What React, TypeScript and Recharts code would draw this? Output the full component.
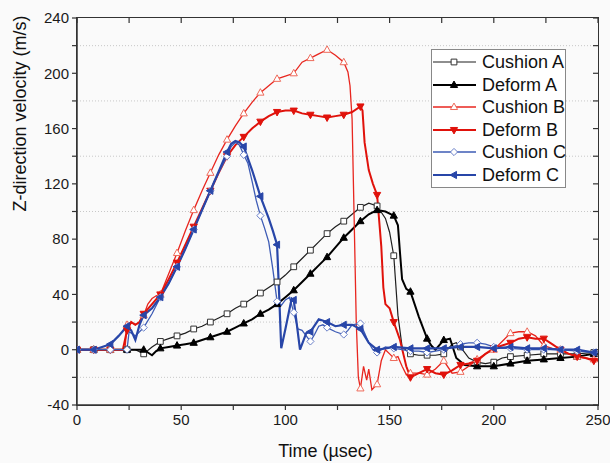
import React from 'react';
import { LineChart, Line, XAxis, YAxis, ReferenceLine, Legend } from 'recharts';

type Pt = [number, number];

// [time (µs), velocity (m/s)]
const cushionA: Pt[] = [
  [0, 0], [8, 0], [16, 0], [24, 0], [28, 0], [32, -3], [36, 2], [40, 6], [44, 8], [48, 10],
  [52, 12], [56, 15], [60, 17], [64, 20], [68, 23], [72, 26], [76, 30], [80, 33], [84, 37],
  [88, 41], [92, 45], [96, 49], [100, 54], [104, 60], [108, 66], [112, 72], [116, 78],
  [120, 84], [124, 89], [128, 93], [132, 98], [136, 103], [140, 106], [144, 104], [148, 95],
  [150, 85], [152, 68], [154, 25], [156, 2], [160, -3], [164, -4], [168, -4], [172, -4],
  [176, -3], [180, 4], [182, 5], [184, 2], [188, -6], [192, -9], [196, -10], [200, -9],
  [204, -6], [208, -5], [216, -4], [224, -3], [232, -3], [240, -3], [248, -2], [250, -2],
];

const deformA: Pt[] = [
  [0, 0], [8, 0], [16, 0], [24, 0], [32, 0], [34, -2], [36, -4], [38, -1], [40, 1], [44, 2],
  [48, 3], [52, 4], [56, 5], [60, 7], [64, 9], [68, 11], [72, 13], [76, 16], [80, 19],
  [84, 22], [88, 26], [92, 29], [96, 33], [100, 38], [104, 43], [108, 49], [112, 55],
  [116, 61], [120, 67], [124, 74], [128, 81], [132, 87], [136, 93], [140, 98], [144, 101],
  [148, 100], [152, 97], [154, 90], [155, 70], [156, 51], [158, 44], [160, 42], [162, 33],
  [164, 24], [166, 16], [168, 8], [170, 3], [172, 0], [176, 7], [179, 8], [182, -6],
  [186, -11], [192, -12], [200, -12], [208, -10], [216, -8], [224, -7], [232, -6],
  [240, -5], [248, -3], [250, -3],
];

const cushionB: Pt[] = [
  [0, 0], [8, 0], [16, 0], [23, 0], [24, 18], [26, 20], [28, 18], [30, 20], [32, 25],
  [34, 33], [36, 37], [38, 39], [40, 40], [44, 55], [48, 70], [52, 86], [56, 101], [60, 115],
  [64, 128], [68, 141], [72, 152], [76, 162], [80, 171], [84, 179], [88, 186], [92, 191],
  [96, 196], [100, 198], [104, 200], [108, 208], [112, 211], [116, 214], [120, 217],
  [124, 213], [128, 208], [130, 201], [131, 191], [132, 167], [133, 94], [134, 20],
  [135, -20], [136, -28], [137.5, -12], [139, -22], [140, -14], [141.5, -29], [144, -25],
  [146, -8], [148, 0], [150, -3], [152, -6], [154, -5], [156, -12], [158, -18], [160, -17],
  [164, -17], [168, -18], [172, -14], [176, -8], [180, -17], [184, -16], [188, -12],
  [192, -7], [196, -3], [200, 0], [204, 6], [208, 12], [212, 13], [216, 13], [220, 10],
  [224, 3], [228, 1], [232, 0], [236, -3], [240, -5], [244, -6], [248, -7], [250, -7],
];

const deformB: Pt[] = [
  [0, 0], [8, 0], [16, 0], [22, 0], [24, 14], [26, 20], [28, 18], [30, 20], [32, 26],
  [36, 33], [40, 40], [44, 51], [48, 63], [52, 76], [56, 89], [60, 102], [64, 115],
  [68, 128], [72, 140], [76, 148], [80, 154], [84, 160], [88, 165], [92, 169], [96, 172],
  [100, 173], [104, 173], [108, 171], [112, 170], [116, 169], [120, 168], [124, 169],
  [128, 170], [132, 172], [136, 176], [137, 173], [138, 150], [140, 130], [142, 120],
  [144, 112], [146, 75], [147, 45], [148, 33], [150, 30], [152, 20], [155, 7], [158, -12],
  [160, -20], [164, -17], [168, -14], [172, -17], [176, -18], [180, -15], [184, -11],
  [188, -10], [192, -8], [196, -3], [200, 1], [204, 3], [208, 5], [212, 8], [216, 9],
  [220, 8], [224, 8], [228, 4], [232, 0], [236, -3], [240, -5], [244, -6], [248, -8],
  [250, -8],
];

const cushionC: Pt[] = [
  [0, 0], [8, 0], [16, 0], [24, 0], [25, 13], [28, 10], [32, 16], [36, 26], [40, 38],
  [44, 48], [48, 60], [52, 73], [56, 87], [60, 101], [64, 115], [68, 128], [72, 140],
  [74, 147], [76, 150], [78, 148], [80, 141], [82, 135], [84, 122], [86, 108], [88, 97],
  [90, 88], [92, 78], [94, 58], [96, 35], [98, 32], [100, 36], [102, 38], [104, 27],
  [106, 15], [108, 14], [110, 10], [112, 6], [114, 11], [116, 17], [118, 18], [120, 16],
  [124, 13], [128, 11], [130, 14], [132, 18], [136, 19], [138, 12], [140, 5], [142, 0],
  [144, -2], [148, 2], [152, 1], [156, 0], [160, -1], [164, -1], [168, -2], [172, -1],
  [176, 0], [180, 2], [184, 4], [188, 5], [192, 5], [196, 4], [200, 2], [204, 1], [208, 1],
  [216, 0], [224, 0], [232, 0], [240, -1], [248, -2], [250, -2],
];

const deformC: Pt[] = [
  [0, 0], [8, 0], [16, 4], [20, 10], [24, 17], [26, 14], [28, 7], [30, 18], [32, 25],
  [36, 30], [40, 38], [44, 48], [48, 60], [52, 73], [56, 87], [60, 101], [64, 115],
  [68, 129], [72, 143], [74, 149], [76, 151], [78, 150], [80, 147], [84, 130], [88, 111],
  [92, 95], [94, 86], [96, 76], [97, 40], [98, 1], [100, 15], [103, 37], [104, 36], [107, 0],
  [110, 12], [112, 13], [116, 22], [120, 20], [124, 17], [128, 18], [132, 18], [136, 15],
  [140, 5], [144, 0], [148, 1], [152, 2], [160, 1], [168, 1], [176, 1], [184, 2], [192, 2],
  [200, 1], [208, 2], [216, 1], [224, 1], [232, 0], [240, 0], [248, -2], [250, -2],
];

const xTicks = [0, 25, 50, 75, 100, 125, 150, 175, 200, 225, 250];
const yTicks = [-40, -20, 0, 20, 40, 60, 80, 100, 120, 140, 160, 180, 200, 220, 240];
const gridValues = [-20, 20, 60, 100, 140, 180, 220];
const X_MAJOR = 50;
const Y_MAJOR = 40;

const X_MIN = 0;
const X_MAX = 250;
const Y_MIN = -40;
const Y_MAX = 240;
// inward tick length on the top and right edges, in axis units (about 5 px)
const TICK_T = 2.4;
const TICK_V = 3.6;

const MARKER_STEP = 8;
const FONT = '"Liberation Sans", Arial, sans-serif';
const FRAME = '#333';

type Shape = 'square' | 'up' | 'down' | 'diamond' | 'left';

interface Series {
  name: string;
  points: Pt[];
  color: string;
  markerStroke: string;
  width: number;
  shape: Shape;
  filled: boolean;
}

const series: Series[] = [
  { name: 'Cushion A', points: cushionA, color: '#1e1e1e', markerStroke: '#333', width: 1.2, shape: 'square', filled: false },
  { name: 'Deform A', points: deformA, color: '#000', markerStroke: '#000', width: 2, shape: 'up', filled: true },
  { name: 'Cushion B', points: cushionB, color: '#e8261f', markerStroke: '#ee6a5a', width: 1.3, shape: 'up', filled: false },
  { name: 'Deform B', points: deformB, color: '#e0120b', markerStroke: '#e0120b', width: 2, shape: 'down', filled: true },
  { name: 'Cushion C', points: cushionC, color: '#3d5bb5', markerStroke: '#6a80c8', width: 1.3, shape: 'diamond', filled: false },
  { name: 'Deform C', points: deformC, color: '#2846a8', markerStroke: '#2846a8', width: 2.2, shape: 'left', filled: true },
];

function markerPath(shape: Shape, cx: number, cy: number, r: number) {
  switch (shape) {
    case 'square':
      return `M${cx - r * 0.8},${cy - r * 0.8}h${r * 1.6}v${r * 1.6}h${-r * 1.6}Z`;
    case 'up':
      return `M${cx},${cy - r * 1.1}L${cx + r},${cy + r * 0.7}L${cx - r},${cy + r * 0.7}Z`;
    case 'down':
      return `M${cx},${cy + r * 1.1}L${cx + r},${cy - r * 0.7}L${cx - r},${cy - r * 0.7}Z`;
    case 'diamond':
      return `M${cx},${cy - r}L${cx + r},${cy}L${cx},${cy + r}L${cx - r},${cy}Z`;
    case 'left':
      return `M${cx - r * 1.1},${cy}L${cx + r * 0.7},${cy - r}L${cx + r * 0.7},${cy + r}Z`;
  }
}

const Marker = ({ s, cx, cy }: { s: Series; cx: number; cy: number }) => (
  <path
    d={markerPath(s.shape, cx, cy, 3.6)}
    fill={s.filled ? s.color : '#fff'}
    stroke={s.markerStroke}
    strokeWidth={1}
  />
);

const makeDot = (s: Series) => (props: any) => {
  const { cx, cy, payload, index } = props;
  if (payload.t % MARKER_STEP !== 0) return <g key={`d-${index}`} />;
  return (
    <g key={`d-${index}`}>
      <Marker s={s} cx={cx} cy={cy} />
    </g>
  );
};

const renderLegend = () => (
  <div
    style={{
      width: 133,
      border: '1px solid #888',
      background: '#fff',
      padding: '1px 0',
      fontFamily: FONT,
    }}
  >
    {series.map((s) => (
      <div key={s.name} style={{ display: 'flex', alignItems: 'center', height: 22.5, whiteSpace: 'nowrap' }}>
        <svg width={46} height={14} style={{ flex: 'none' }}>
          <line x1={1} y1={7} x2={44} y2={7} stroke={s.color} strokeWidth={s.width} />
          <Marker s={s} cx={22} cy={7} />
        </svg>
        <span style={{ fontSize: 18, color: '#111', marginLeft: 4, lineHeight: '20px' }}>{s.name}</span>
      </div>
    ))}
  </div>
);

const tickStyle = { fontSize: 15, fill: '#1a1a1a', fontFamily: FONT };
const ax = { xAxisId: 'x', yAxisId: 'y' };

export default function App() {
  return (
    <div style={{ position: 'absolute', left: 0, top: 0, width: 610, height: 463, background: '#fafafa' }}>
      <LineChart width={610} height={463} margin={{ top: 18, right: 12, bottom: 8, left: 7 }}>
        {gridValues.map((v) => (
          <ReferenceLine key={`g${v}`} {...ax} y={v} stroke="#c8c8c8" strokeDasharray="1 2" />
        ))}
        {xTicks.map((t) => (
          <ReferenceLine key={`tt${t}`} {...ax} ifOverflow="visible" segment={[{ x: t, y: Y_MAX }, { x: t, y: Y_MAX - TICK_V }]} stroke={FRAME} strokeWidth={1.2} />
        ))}
        {yTicks.map((v) => (
          <ReferenceLine key={`tr${v}`} {...ax} ifOverflow="visible" segment={[{ x: X_MAX, y: v }, { x: X_MAX - TICK_T, y: v }]} stroke={FRAME} strokeWidth={1.2} />
        ))}
        <XAxis
          xAxisId="x"
          type="number"
          dataKey="t"
          domain={[X_MIN, X_MAX]}
          ticks={xTicks}
          interval={0}
          allowDataOverflow
          height={50}
          tickSize={5}
          tickMargin={4}
          tickFormatter={(v: number) => (v % X_MAJOR === 0 ? String(v) : '')}
          tick={tickStyle}
          tickLine={{ stroke: FRAME, strokeWidth: 1.2 }}
          stroke={FRAME}
          strokeWidth={1.5}
          label={{ value: 'Time (\u00b5sec)', position: 'insideBottom', offset: -2, dx: -12, fontSize: 18, fill: '#111', fontFamily: FONT }}
        />
        <YAxis
          yAxisId="y"
          type="number"
          domain={[Y_MIN, Y_MAX]}
          ticks={yTicks}
          interval={0}
          allowDataOverflow
          width={70}
          tickSize={5}
          tickMargin={3}
          tickFormatter={(v: number) => (v % Y_MAJOR === 0 ? String(v) : '')}
          tick={tickStyle}
          tickLine={{ stroke: FRAME, strokeWidth: 1.2 }}
          stroke={FRAME}
          strokeWidth={1.5}
          label={{ value: 'Z-direction velocity (m/s)', angle: -90, position: 'insideLeft', offset: 13, fontSize: 18, fill: '#111', fontFamily: FONT }}
        />
        {series.map((s) => (
          <Line
            key={s.name}
            {...ax}
            name={s.name}
            data={s.points.map(([t, v]) => ({ t, v }))}
            dataKey="v"
            type="linear"
            stroke={s.color}
            strokeWidth={s.width}
            dot={makeDot(s)}
            activeDot={false}
            isAnimationActive={false}
          />
        ))}
        <Legend
          layout="vertical"
          align="center"
          verticalAlign="middle"
          content={renderLegend}
          wrapperStyle={{ left: 431, top: 49, width: 135 }}
        />
      </LineChart>
      {/* plot frame (top and right edges are not axes) */}
      <div
        style={{
          position: 'absolute',
          left: 76,
          top: 17,
          width: 523,
          height: 389,
          boxSizing: 'border-box',
          border: `1.5px solid ${FRAME}`,
          pointerEvents: 'none',
        }}
      />
    </div>
  );
}
